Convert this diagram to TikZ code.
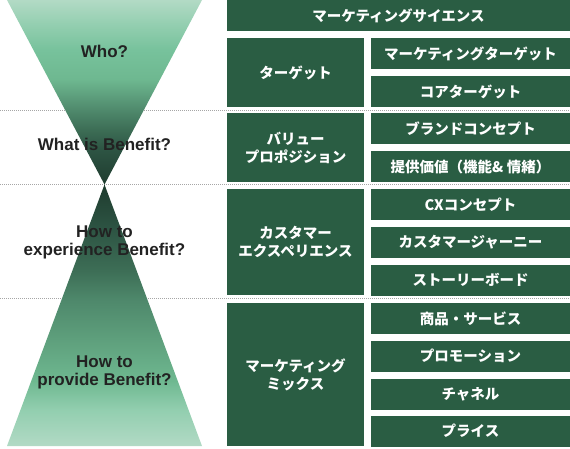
\documentclass[tikz,border=0pt]{standalone}
\usepackage{fontspec}
\setmainfont{Liberation Sans}
\newfontfamily\jpfont{Noto Sans CJK JP}
\usepackage{tikz}

\definecolor{boxgreen}{HTML}{2A5D43}
\definecolor{qtext}{HTML}{222222}
% funnel colours, from the neck outwards
\definecolor{fneck}{HTML}{1F3C2F}
\definecolor{fdark}{HTML}{2D5443}
\definecolor{fdeep}{HTML}{3D6E56}
\definecolor{fmid}{HTML}{4E886B}
\definecolor{fsea}{HTML}{5E9F7C}
\definecolor{fgreen}{HTML}{6EB890}
\definecolor{fbright}{HTML}{77C29C}
\definecolor{fpale}{HTML}{92CEAF}
\definecolor{flight}{HTML}{B2DAC5}

\pgfdeclareverticalshading{upperfunnel}{100bp}{color(0bp)=(fneck); color(25bp)=(fneck); color(34.5bp)=(fdark); color(40bp)=(fdeep); color(45bp)=(fmid); color(53.5bp)=(fgreen); color(61.5bp)=(fbright); color(68bp)=(fpale); color(75bp)=(flight); color(100bp)=(flight)}
\pgfdeclareverticalshading{lowerfunnel}{100bp}{color(0bp)=(flight); color(25bp)=(flight); color(32bp)=(fpale); color(37.5bp)=(fgreen); color(45.5bp)=(fsea); color(53bp)=(fmid); color(58.5bp)=(fdeep); color(66.5bp)=(fdark); color(75bp)=(fneck); color(100bp)=(fneck)}

\tikzset{
  cell/.style={fill=boxgreen,text=white,inner sep=0pt,align=center,font=\jpfont\bfseries\fontsize{14.5}{18}\selectfont},
  topcell/.style={cell,minimum width=343pt,minimum height=31pt},
  leftcell/.style={cell,minimum width=137pt},
  rightcell/.style={cell,minimum width=199pt,minimum height=31pt},
  question/.style={text=qtext,align=center,font=\bfseries\fontsize{17}{18}\selectfont},
  divider/.style={black!35,line width=0.8pt,dash pattern=on 1pt off 1pt}
}

\begin{document}
\begin{tikzpicture}[x=1pt,y=-1pt]
                \useasboundingbox (0,0) rectangle (570,448);

                % Dividers
                \draw[divider] (0,110) -- (570,110);
                \draw[divider] (0,184.5) -- (570,184.5);
                \draw[divider] (0,298.5) -- (570,298.5);

                % Funnel
                \coordinate (neck) at (104.5,184.5);
                \shade[shading=upperfunnel] (7,0) -- (202,0) -- (neck) -- cycle;
                \shade[shading=lowerfunnel] (neck) -- (202,446) -- (7,446) -- cycle;

                % Questions
                \node[question] (who) at (104.5,51) {Who?};
                \node[question] (what) at (104.5,144.5) {What is Benefit?};
                \node[question] (exp) at (104.5,242) {How to\\experience Benefit?};
                \node[question] (prov) at (104.5,372) {How to\\provide Benefit?};

                % Top cell
                \node[topcell] (ms) at (398.5,15.5) {マーケティングサイエンス};

                % Left cells
                \node[leftcell,minimum height=69pt] (tg) at (295.5,72.5) {ターゲット};
                \node[leftcell,minimum height=69pt] (vp) at (295.5,147.5) {バリュー\\プロポジション};
                \node[leftcell,minimum height=106pt] (cx) at (295.5,242) {カスタマー\\エクスペリエンス};
                \node[leftcell,minimum height=143pt] (mm) at (295.5,374.5) {マーケティング\\ミックス};

                % Right cells
                \node[rightcell] (tg1) at (470.5,53.5) {マーケティングターゲット};
                \node[rightcell] (tg2) at (470.5,91.5) {コアターゲット};
                \node[rightcell] (vp1) at (470.5,128.5) {ブランドコンセプト};
                \node[rightcell] (vp2) at (470.5,166.5) {提供価値（機能\& 情緒）};
                \node[rightcell] (cx1) at (470.5,204.5) {CXコンセプト};
                \node[rightcell] (cx2) at (470.5,242.5) {カスタマージャーニー};
                \node[rightcell] (cx3) at (470.5,280) {ストーリーボード};
                \node[rightcell] (mm1) at (470.5,318.5) {商品・サービス};
                \node[rightcell] (mm2) at (470.5,356) {プロモーション};
                \node[rightcell] (mm3) at (470.5,394) {チャネル};
                \node[rightcell] (mm4) at (470.5,431) {プライス};

            \end{tikzpicture}
\end{document}
